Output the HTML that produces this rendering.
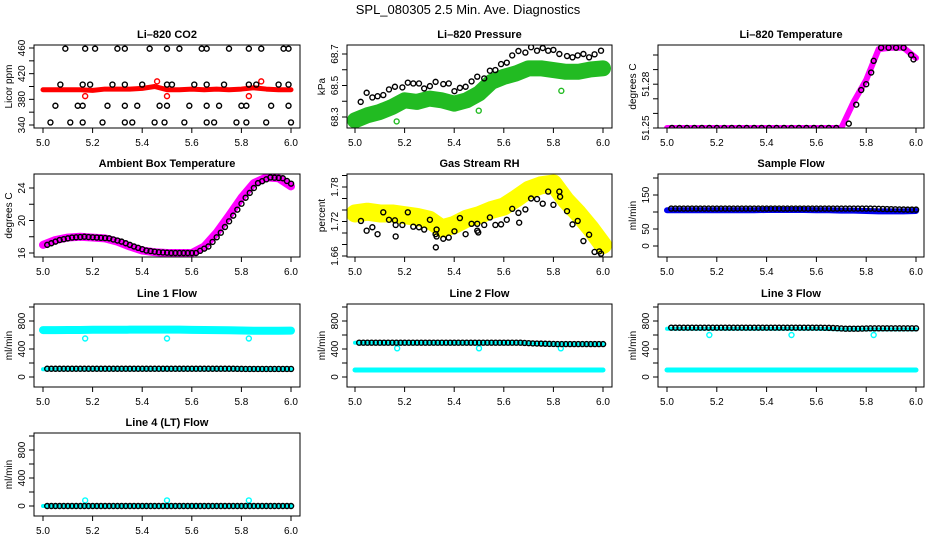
<!DOCTYPE html>
<html><head><meta charset="utf-8"><style>
html,body{margin:0;padding:0;background:#fff}
svg{display:block;font-family:"Liberation Sans",sans-serif}
</style></head><body>
<svg id="c" width="936" height="540" viewBox="0 0 936 540">
<text x="468" y="14" text-anchor="middle" font-size="13">SPL_080305  2.5 Min. Ave. Diagnostics</text>
</svg>
<script>
// shared x grids (hours)
const bandX = [5.0,5.05,5.1,5.15,5.2,5.25,5.3,5.35,5.4,5.45,5.5,5.55,5.6,5.65,5.7,5.75,5.8,5.85,5.9,5.95,6.0];
const xTicks = [5.0,5.2,5.4,5.6,5.8,6.0];
const xTickLabels = ["5.0","5.2","5.4","5.6","5.8","6.0"];

// CO2
const co2Band = [395,395,395,395,394,396,396,396,397,400,395,395,396,395,396,395,396,398,396,395,395];
const co2BlackX = [5.09,5.17,5.21,5.30,5.33,5.43,5.50,5.55,5.64,5.66,5.75,5.83,5.88,5.97,5.99,
 5.07,5.16,5.19,5.28,5.33,5.40,5.50,5.52,5.61,5.66,5.73,5.83,5.86,5.95,5.99,
 5.05,5.14,5.16,5.26,5.33,5.38,5.47,5.50,5.59,5.66,5.71,5.80,5.82,5.92,5.99,
 5.03,5.11,5.16,5.24,5.33,5.36,5.45,5.49,5.57,5.66,5.69,5.78,5.82,5.90,6.0];
const co2BlackY = [459,459,459,459,459,459,459,459,459,459,459,459,459,459,459,
 403,403,403,403,403,403,403,403,403,403,403,403,403,403,403,
 370,370,370,370,370,370,370,370,370,370,370,370,370,370,370,
 344,344,344,344,344,344,344,344,344,344,344,344,344,344,344];
const co2OutX = [5.17,5.50,5.83,5.46,5.88];
const co2OutY = [385,385,385,408,408];

// Pressure
const presBand = [68.279,68.311,68.332,68.364,68.406,68.396,68.417,68.406,68.385,68.406,68.449,68.523,68.555,68.577,68.609,68.609,68.598,68.587,68.587,68.602,68.609];
const presBlackX = [5.023,5.047,5.070,5.091,5.114,5.137,5.161,5.191,5.213,5.235,5.258,5.279,5.302,5.325,5.356,5.378,5.401,5.423,5.446,5.470,5.493,5.521,5.544,5.566,5.589,5.612,5.634,5.659,5.687,5.710,5.734,5.757,5.779,5.800,5.824,5.855,5.877,5.898,5.921,5.944,5.966,5.992];
const presBlackY = [68.396,68.454,68.424,68.432,68.439,68.475,68.492,68.488,68.518,68.513,68.513,68.481,68.496,68.523,68.509,68.513,68.464,68.485,68.492,68.526,68.556,68.545,68.594,68.598,68.636,68.645,68.691,68.719,68.709,68.743,68.721,68.738,68.721,68.726,68.700,68.687,68.679,68.691,68.700,68.679,68.698,68.721];
const presOutX = [5.168,5.499,5.832];
const presOutY = [68.272,68.34,68.466];

// Li-820 temperature
const tempBand = [51.25,51.25,51.25,51.25,51.25,51.25,51.25,51.25,51.25,51.25,51.25,51.25,51.25,51.25,51.25,51.268,51.283,51.304,51.305,51.305,51.298];
const tempBlackX = [5.02,5.05,5.08,5.11,5.14,5.17,5.2,5.23,5.26,5.29,5.32,5.35,5.38,5.41,5.44,5.47,5.5,5.53,5.56,5.59,5.62,5.65,5.68,5.73,5.76,5.78,5.8,5.82,5.83,5.86,5.89,5.92,5.95,5.98,5.99];
const tempBlackY = [51.25,51.25,51.25,51.25,51.25,51.25,51.25,51.25,51.25,51.25,51.25,51.25,51.25,51.25,51.25,51.25,51.25,51.25,51.25,51.25,51.25,51.25,51.25,51.253,51.266,51.276,51.28,51.288,51.296,51.305,51.305,51.305,51.305,51.3,51.297];

// Ambient box temperature
const ambBand = [17.0,17.6,17.9,18.0,17.9,17.8,17.4,16.8,16.3,16.1,16.0,16.0,16.0,16.8,18.5,20.6,22.8,24.6,25.3,25.2,24.2];

// Gas stream RH
const rhBand = [1.734,1.737,1.734,1.734,1.731,1.728,1.723,1.708,1.714,1.725,1.731,1.74,1.746,1.76,1.775,1.783,1.786,1.757,1.734,1.708,1.679];
const rhBlackX = [5.024,5.047,5.070,5.091,5.114,5.137,5.161,5.164,5.164,5.191,5.213,5.235,5.258,5.279,5.302,5.325,5.329,5.329,5.326,5.356,5.378,5.401,5.423,5.446,5.470,5.493,5.493,5.497,5.521,5.544,5.566,5.589,5.612,5.634,5.659,5.662,5.687,5.710,5.734,5.757,5.779,5.800,5.824,5.827,5.855,5.877,5.898,5.921,5.944,5.966,5.985,5.992];
const rhBlackY = [1.721,1.704,1.710,1.698,1.736,1.723,1.722,1.714,1.694,1.714,1.736,1.711,1.710,1.706,1.723,1.698,1.706,1.694,1.675,1.690,1.692,1.703,1.726,1.698,1.716,1.704,1.716,1.701,1.714,1.727,1.714,1.715,1.723,1.742,1.735,1.718,1.741,1.760,1.759,1.751,1.772,1.749,1.772,1.763,1.738,1.715,1.721,1.686,1.697,1.667,1.668,1.664];

// Sample flow
const sampBand = [105,105,105,105,105,105,105,105,106,106,106,106,105,105,104,104,103,102,102,102,103];
const sampBlack = [110,110,110,110,110,110,110,110,110,110,110,110,110,110,110,110,110,109,108,107,107];

// Line 1-4 flows
const l1Hi = [670,670,672,672,675,675,675,676,676,676,676,676,674,672,670,668,665,660,660,660,662];
const l1Lo = [110,110,110,110,110,110,110,110,110,110,110,110,110,110,110,110,110,110,110,110,110];
const l1Black = [118,118,118,118,118,118,118,118,118,118,118,118,118,118,118,118,115,115,115,115,115];
const l2Hi = [490,490,490,490,490,490,490,490,490,490,490,490,490,490,480,475,470,470,470,470,470];
const l2Lo = [100,100,100,100,100,100,100,100,100,100,100,100,100,100,100,100,100,100,100,100,100];
const l2Black = [490,490,490,490,490,490,490,490,490,490,490,490,490,490,480,475,470,470,470,470,470];
const l3Hi = [690,690,690,690,690,690,690,690,690,690,690,690,690,685,680,680,680,680,680,680,680];
const l3Lo = [100,100,100,100,100,100,100,100,100,100,100,100,100,100,100,100,100,100,100,100,100];
const l3Black = [705,705,705,705,705,705,705,705,705,705,705,705,705,700,690,690,695,695,695,695,695];
const l4Hi = [0,0,0,0,0,0,0,0,0,0,0,0,0,0,0,0,0,0,0,0,0];
const l4Black = [0,0,0,0,0,0,0,0,0,0,0,0,0,0,0,0,0,0,0,0,0];
const outX = [5.17,5.50,5.83];
const l1Out = [550,550,550];
const l2Out = [410,410,410];
const l3Out = [600,600,600];
const l4Out = [80,80,80];

const NS = "http://www.w3.org/2000/svg";
const svg = document.getElementById('c');
function mk(tag, attrs, parent){const e=document.createElementNS(NS,tag);for(const k in attrs)e.setAttribute(k,attrs[k]);(parent||svg).appendChild(e);return e;}

const colL=[34,347,658], colR=[300,612,924], x5=[43,355,667], x6=[291,603,916];
const rowT=[45,174,304,433], BH=83;

function panel(name,c,r,title,ylab,yv0,yp0,yv1,yp1,ticks,labels,draw){
  const g=mk('g',{});  
  const top=rowT[r], L=colL[c], R=colR[c], B=top+BH;
  const X=v=>x5[c]+(v-5)*(x6[c]-x5[c]);
  const Y=v=>top+yp0+(v-yv0)*(yp1-yp0)/(yv1-yv0);
  const t=mk('text',{x:(L+R)/2,y:top-7,'text-anchor':'middle','font-size':11,'font-weight':'bold'},g); t.textContent=title;
   
  const clip='cl'+c+r; const cp=mk('clipPath',{id:clip},g); mk('rect',{x:L,y:top,width:R-L,height:BH},cp);
  const pg=mk('g',{'clip-path':'url(#'+clip+')'},g);
   
  draw(pg,X,Y);
  const box=mk('rect',{x:L,y:top,width:R-L,height:BH,fill:'none',stroke:'#000','stroke-width':1},g);
   
  xTicks.forEach((v,i)=>{const x=X(v);mk('line',{x1:x,x2:x,y1:B,y2:B+5,stroke:'#000'},g);
    const tl=mk('text',{x:x,y:B+18,'text-anchor':'middle','font-size':10},g);tl.textContent=xTickLabels[i];
     });
  ticks.forEach((v,i)=>{const y=Y(v);mk('line',{x1:L-5,x2:L,y1:y,y2:y,stroke:'#000'},g);
    if(labels[i]){const tl=mk('text',{x:0,y:0,'text-anchor':'middle','font-size':10,transform:`translate(${L-9},${y}) rotate(-90)`},g);tl.textContent=labels[i];
     }});
  const yl=mk('text',{x:0,y:0,'text-anchor':'middle','font-size':10,transform:`translate(${L-22},${top+BH/2}) rotate(-90)`},g);yl.textContent=ylab;
   
}
function band(g,X,Y,xs,ys,color,w,name){
  const p=mk('polyline',{points:xs.map((x,i)=>X(x)+','+Y(ys[i])).join(' '),fill:'none',stroke:color,'stroke-width':w,'stroke-linecap':'round','stroke-linejoin':'round'},g);
   
}
function pts(g,X,Y,xs,ys,color,name){
  xs.forEach((x,i)=>{const e=mk('circle',{cx:X(x),cy:Y(ys[i]),r:2.5,fill:'none',stroke:color,'stroke-width':1.4},g);
     });
}
function ptsGrid(g,X,Y,vals,color,name){
  const xs=[],ys=[];
  for(let i=0;i<vals.length-1;i++){for(let k=0;k<3;k++){xs.push(bandX[i]+k*(bandX[i+1]-bandX[i])/3+0.017);ys.push(vals[i]+(vals[i+1]-vals[i])*k/3);}}
  pts(g,X,Y,xs,ys,color,name);
}

panel('co2-panel',0,0,'Li–820 CO2','Licor ppm',340,80,460,3,[340,360,380,400,420,440,460],['340','','380','','420','','460'],(g,X,Y)=>{
  band(g,X,Y,bandX,co2Band,'#ff0000',5,'co2-series');
  pts(g,X,Y,co2OutX,co2OutY,'#ff0000','co2-outlier');
  pts(g,X,Y,co2BlackX,co2BlackY,'#000','co2-average-point');
});
panel('pressure-panel',1,0,'Li–820 Pressure','kPa',68.3,72,68.7,9,[68.3,68.4,68.5,68.6,68.7],['68.3','','68.5','','68.7'],(g,X,Y)=>{
  band(g,X,Y,bandX,presBand,'#22bb22',16,'pressure-series');
  pts(g,X,Y,presOutX,presOutY,'#22bb22','pressure-outlier');
  pts(g,X,Y,presBlackX,presBlackY,'#000','pressure-average-point');
});
panel('li820-temp-panel',2,0,'Li–820 Temperature','degrees C',51.25,83,51.30,10,[51.25,51.26,51.27,51.28,51.29,51.30],['51.25','','','51.28','',''],(g,X,Y)=>{
  band(g,X,Y,bandX,tempBand,'#ff00ff',6,'li820-temp-series');
  pts(g,X,Y,tempBlackX,tempBlackY,'#000','li820-temp-average-point');
});
panel('ambient-temp-panel',0,1,'Ambient Box Temperature','degrees C',16,79,24,14,[16,18,20,22,24],['16','','20','','24'],(g,X,Y)=>{
  band(g,X,Y,bandX,ambBand,'#ff00ff',8,'ambient-temp-series');
  ptsGrid(g,X,Y,ambBand,'#000','ambient-temp-average-point');
});
panel('rh-panel',1,1,'Gas Stream RH','percent',1.66,82,1.78,13,[1.66,1.68,1.70,1.72,1.74,1.76,1.78,1.80],['1.66','','','1.72','','','1.78',''],(g,X,Y)=>{
  band(g,X,Y,bandX,rhBand,'#ffff00',18,'rh-series');
  pts(g,X,Y,rhBlackX,rhBlackY,'#000','rh-average-point');
});
panel('sample-flow-panel',2,1,'Sample Flow','ml/min',0,72,150,21,[0,50,100,150,200],['0','50','','150',''],(g,X,Y)=>{
  band(g,X,Y,bandX,sampBand,'#0000ee',6,'sample-flow-series');
  ptsGrid(g,X,Y,sampBlack,'#000','sample-flow-average-point');
});
const flowTicks=[0,200,400,600,800,1000], flowLabels=['0','','400','','800',''];
panel('line1-flow-panel',0,2,'Line 1 Flow','ml/min',0,73,800,17,flowTicks,flowLabels,(g,X,Y)=>{
  band(g,X,Y,bandX,l1Hi,'#00ffff',8,'line1-flow-series');
  band(g,X,Y,bandX,l1Lo,'#00ffff',4,'line1-low-series');
  pts(g,X,Y,outX,l1Out,'#00ffff','line1-outlier');
  ptsGrid(g,X,Y,l1Black,'#000','line1-average-point');
});
panel('line2-flow-panel',1,2,'Line 2 Flow','ml/min',0,73,800,17,flowTicks,flowLabels,(g,X,Y)=>{
  band(g,X,Y,bandX,l2Hi,'#00ffff',4,'line2-flow-series');
  band(g,X,Y,bandX,l2Lo,'#00ffff',5,'line2-low-series');
  pts(g,X,Y,outX,l2Out,'#00ffff','line2-outlier');
  ptsGrid(g,X,Y,l2Black,'#000','line2-average-point');
});
panel('line3-flow-panel',2,2,'Line 3 Flow','ml/min',0,73,800,17,flowTicks,flowLabels,(g,X,Y)=>{
  band(g,X,Y,bandX,l3Hi,'#00ffff',4,'line3-flow-series');
  band(g,X,Y,bandX,l3Lo,'#00ffff',5,'line3-low-series');
  pts(g,X,Y,outX,l3Out,'#00ffff','line3-outlier');
  ptsGrid(g,X,Y,l3Black,'#000','line3-average-point');
});
panel('line4-flow-panel',0,3,'Line 4 (LT) Flow','ml/min',0,73,800,17,flowTicks,flowLabels,(g,X,Y)=>{
  band(g,X,Y,bandX,l4Hi,'#00ffff',4,'line4-flow-series');
  pts(g,X,Y,outX,l4Out,'#00ffff','line4-outlier');
  ptsGrid(g,X,Y,l4Black,'#000','line4-average-point');
});
</script>
</body></html>
